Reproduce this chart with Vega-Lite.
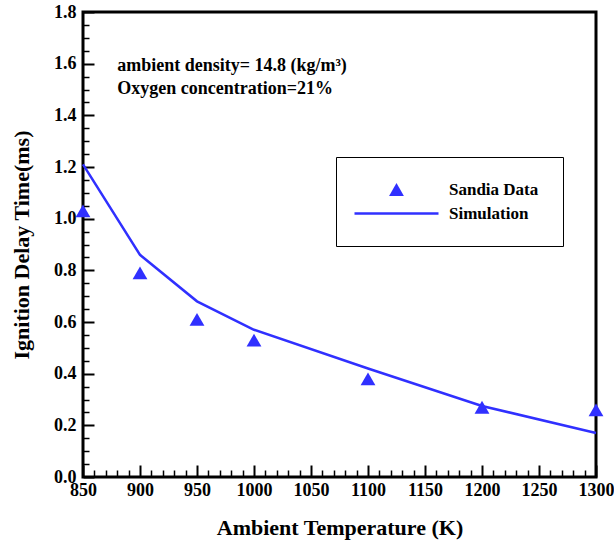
{
  "$schema": "https://vega.github.io/schema/vega-lite/v6.json",
  "autosize": "none",
  "width": 513,
  "height": 465,
  "padding": {"left": 83, "top": 12, "right": 18, "bottom": 70},
  "background": "white",
  "config": {
    "view": {"stroke": "black", "strokeWidth": 3},
    "font": "Liberation Serif",
    "axis": {"grid": false, "domain": false, "labelFont": "Liberation Serif", "titleFont": "Liberation Serif", "labelFontWeight": "bold", "titleFontWeight": "bold", "labelColor": "black", "titleColor": "black", "tickColor": "black", "labelFontSize": 18, "titleFontSize": 22, "labelFlush": false, "labelOverlap": false}
  },
  "datasets": {
    "sim": [
      {"T": 850, "t": 1.21, "series": "Simulation"},
      {"T": 900, "t": 0.86, "series": "Simulation"},
      {"T": 950, "t": 0.68, "series": "Simulation"},
      {"T": 1000, "t": 0.57, "series": "Simulation"},
      {"T": 1100, "t": 0.42, "series": "Simulation"},
      {"T": 1200, "t": 0.275, "series": "Simulation"},
      {"T": 1300, "t": 0.17, "series": "Simulation"}
    ],
    "exp": [
      {"T": 850, "t": 1.03, "series": "Sandia Data"},
      {"T": 900, "t": 0.79, "series": "Sandia Data"},
      {"T": 950, "t": 0.61, "series": "Sandia Data"},
      {"T": 1000, "t": 0.53, "series": "Sandia Data"},
      {"T": 1100, "t": 0.38, "series": "Sandia Data"},
      {"T": 1200, "t": 0.27, "series": "Sandia Data"},
      {"T": 1300, "t": 0.26, "series": "Sandia Data"}
    ],
    "notes": [
      {"T": 880, "t": 1.573, "label": "ambient density= 14.8 (kg/m³)"},
      {"T": 880, "t": 1.484, "label": "Oxygen concentration=21%"}
    ]
  },
  "layer": [
    {
      "data": {"name": "sim"},
      "mark": {"type": "line", "color": "#3030ff", "strokeWidth": 2.5, "clip": false},
      "encoding": {
        "x": {"field": "T", "type": "quantitative", "scale": {"domain": [850, 1300], "nice": false, "zero": false},
          "axis": {"orient": "bottom", "title": "Ambient Temperature (K)", "values": [850, 900, 950, 1000, 1050, 1100, 1150, 1200, 1250, 1300], "format": "d", "tickSize": -12, "tickWidth": 2, "labelPadding": 16, "titlePadding": 18}},
        "y": {"field": "t", "type": "quantitative", "scale": {"domain": [0, 1.8], "nice": false},
          "axis": {"orient": "left", "title": "Ignition Delay Time(ms)", "values": [0, 0.2, 0.4, 0.6, 0.8, 1, 1.2, 1.4, 1.6, 1.8], "tickSize": -11, "tickWidth": 2, "labelPadding": 18, "titlePadding": 20}},
        "color": {"field": "series", "type": "nominal", "scale": {"domain": ["Sandia Data", "Simulation"], "range": ["#3030ff", "#3030ff"]},
          "legend": {"orient": "none", "legendX": 253, "legendY": 145, "title": null, "padding": 24, "symbolOffset": 28, "strokeColor": "black", "fillColor": "white", "labelFont": "Liberation Serif", "labelFontWeight": "bold", "labelFontSize": 17, "labelColor": "black", "labelOffset": 44, "rowPadding": 6,
            "encode": {"symbols": {"update": {"size": {"signal": "datum.value === 'Simulation' ? 7056 : 220"}, "strokeWidth": {"signal": "datum.value === 'Simulation' ? 2.5 : 0"}, "stroke": {"value": "#3030ff"}, "fill": {"value": "#3030ff"}}}}}
        }
      }
    },
    {
      "data": {"name": "exp"},
      "mark": {"type": "point", "filled": true, "opacity": 1, "size": 220, "clip": false},
      "encoding": {
        "x": {"field": "T", "type": "quantitative",
          "axis": {"orient": "bottom", "title": null, "labels": false, "values": [860, 870, 880, 890, 910, 920, 930, 940, 960, 970, 980, 990, 1010, 1020, 1030, 1040, 1060, 1070, 1080, 1090, 1110, 1120, 1130, 1140, 1160, 1170, 1180, 1190, 1210, 1220, 1230, 1240, 1260, 1270, 1280, 1290], "tickSize": -7, "tickWidth": 1.5}},
        "y": {"field": "t", "type": "quantitative",
          "axis": {"orient": "left", "title": null, "labels": false, "values": [0.05, 0.1, 0.15, 0.25, 0.3, 0.35, 0.45, 0.5, 0.55, 0.65, 0.7, 0.75, 0.85, 0.9, 0.95, 1.05, 1.1, 1.15, 1.25, 1.3, 1.35, 1.45, 1.5, 1.55, 1.65, 1.7, 1.75], "tickSize": -6, "tickWidth": 1.5}},
        "color": {"field": "series", "type": "nominal"},
        "shape": {"field": "series", "type": "nominal", "scale": {"domain": ["Sandia Data", "Simulation"], "range": ["triangle-up", "stroke"]}}
      }
    },
    {
      "data": {"name": "notes"},
      "mark": {"type": "text", "align": "left", "baseline": "alphabetic", "font": "Liberation Serif", "fontWeight": "bold", "fontSize": 18, "color": "black"},
      "encoding": {
        "x": {"field": "T", "type": "quantitative", "axis": null},
        "y": {"field": "t", "type": "quantitative", "axis": null},
        "text": {"field": "label"}
      }
    }
  ],
  "resolve": {"axis": {"x": "independent", "y": "independent"}}
}
